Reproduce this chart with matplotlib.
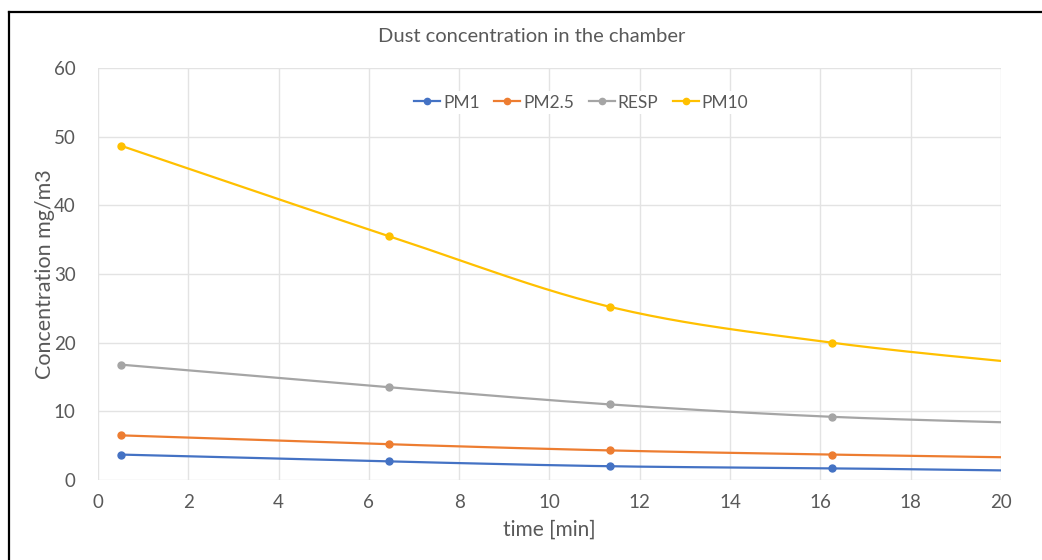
import numpy as np
import matplotlib
matplotlib.use("Agg")
import matplotlib.pyplot as plt
from matplotlib.lines import Line2D

plt.rcParams['font.family'] = ['Lato', 'DejaVu Sans']

# Data (last point lies beyond the visible x-range)
time_min = [0.5, 6.45, 11.35, 16.25, 21.15]
pm1 = [3.7, 2.7, 2.0, 1.7, 1.3]
pm25 = [6.5, 5.2, 4.3, 3.7, 3.2]
resp = [16.8, 13.5, 11.0, 9.2, 8.2]
pm10 = [48.7, 35.5, 25.2, 20.0, 16.6]

series_names = ["PM1", "PM2.5", "RESP", "PM10"]
series_values = [pm1, pm25, resp, pm10]
colors = ["#4472C4", "#ED7D31", "#A5A5A5", "#FFC000"]

x_ticks = [0, 2, 4, 6, 8, 10, 12, 14, 16, 18, 20]
y_ticks = [0, 10, 20, 30, 40, 50, 60]


def smooth(xs, ys, n=40):
    """Excel-like smoothed line: Catmull-Rom via cubic Bezier segments."""
    xs = np.asarray(xs, float)
    ys = np.asarray(ys, float)
    P = np.column_stack([xs, ys])
    Pext = np.vstack([P[0], P, P[-1]])
    out = []
    for i in range(len(P) - 1):
        p0, p1, p2, p3 = Pext[i], Pext[i + 1], Pext[i + 2], Pext[i + 3]
        c1 = p1 + (p2 - p0) / 6.0
        c2 = p2 - (p3 - p1) / 6.0
        t = np.linspace(0, 1, n)[:, None]
        seg = ((1 - t) ** 3) * p1 + 3 * ((1 - t) ** 2) * t * c1 + 3 * (1 - t) * t ** 2 * c2 + t ** 3 * p2
        if i > 0:
            seg = seg[1:]
        out.append(seg)
    out = np.vstack(out)
    return out[:, 0], out[:, 1]


fig = plt.figure(figsize=(10.42, 5.6), dpi=100)
ax = fig.add_axes([0.094, 0.1429, 0.8666, 0.7357])

text_color = "#595959"
grid_color = "#E3E3E3"

for name, vals, c in zip(series_names, series_values, colors):
    sx, sy = smooth(time_min, vals)
    ax.plot(sx, sy, color=c, lw=1.6, zorder=3, solid_capstyle='round')
    ax.plot(time_min, vals, linestyle='none', marker='o', markersize=5,
            color=c, zorder=4)

# legend handles (line with marker)
handles = [Line2D([0], [0], color=c, lw=1.6, marker='o', markersize=4.5)
           for c in colors]
leg = ax.legend(handles, series_names, loc='upper center',
                bbox_to_anchor=(0.535, 0.965), ncol=4, frameon=True,
                fontsize=12.5, handlelength=1.5, handletextpad=0.15,
                columnspacing=0.85, borderpad=0.2)
leg.get_frame().set_facecolor("white")
leg.get_frame().set_edgecolor("none")
leg.get_frame().set_alpha(1.0)
leg.set_zorder(5)
for t in leg.get_texts():
    t.set_color(text_color)

ax.set_xlim(0, 20)
ax.set_ylim(0, 60)
ax.set_xticks(x_ticks)
ax.set_yticks(y_ticks)
ax.grid(True, color=grid_color, lw=1.0, zorder=0)
ax.set_axisbelow(True)
for s in ["top", "right", "left", "bottom"]:
    ax.spines[s].set_visible(False)
ax.tick_params(axis='both', length=0, labelsize=13.5, colors=text_color, pad=10)
ax.tick_params(axis='y', pad=16)

ax.set_xlabel("time [min]", fontsize=15, color=text_color, labelpad=6)
ax.set_ylabel("Concentration mg/m3", fontsize=15.5, color=text_color)
ax.yaxis.set_label_coords(-0.048, 0.5)
fig.text(0.51, 0.935, "Dust concentration in the chamber", ha='center',
         va='center', fontsize=14.5, color=text_color)

# outer chart border (only top and left visible in the crop)
fig.add_artist(Line2D([9 / 1042, 1.01], [1 - 12 / 560, 1 - 12 / 560],
                      transform=fig.transFigure, color='black', lw=1.6))
fig.add_artist(Line2D([9 / 1042, 9 / 1042], [1 - 12 / 560, -0.01],
                      transform=fig.transFigure, color='black', lw=1.6))

fig.savefig("out.png", dpi=100)
